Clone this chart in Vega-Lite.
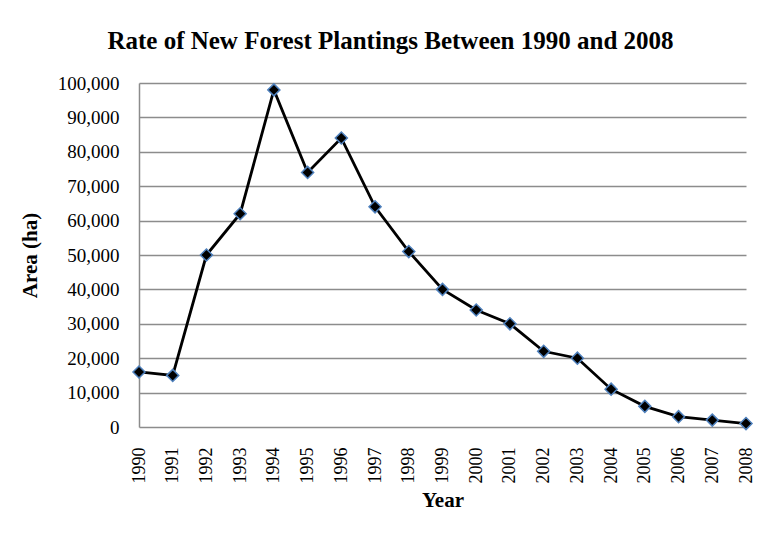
{
  "$schema": "https://vega.github.io/schema/vega-lite/v6.json",
  "width": 607,
  "height": 344,
  "autosize": {"type": "none"},
  "padding": {"left": 139, "top": 83, "right": 11, "bottom": 106},
  "background": "white",
  "title": {
    "text": "Rate of New Forest Plantings Between 1990 and 2008",
    "font": "Liberation Serif",
    "fontSize": 25,
    "fontWeight": "bold",
    "color": "black",
    "anchor": "middle",
    "dx": -52,
    "offset": 20
  },
  "config": {
    "view": {"stroke": null},
    "axis": {
      "labelFont": "Liberation Serif",
      "titleFont": "Liberation Serif",
      "labelColor": "black",
      "titleColor": "black",
      "labelFontSize": 18,
      "titleFontSize": 21,
      "titleFontWeight": "bold",
      "ticks": false,
      "domainColor": "#8c8c8c",
      "domainWidth": 1.5,
      "gridColor": "#8c8c8c",
      "gridWidth": 1.5,
      "gridOpacity": 1
    }
  },
  "data": {
    "values": [
      {"year": "1990", "area": 16000},
      {"year": "1991", "area": 15000},
      {"year": "1992", "area": 50000},
      {"year": "1993", "area": 62000},
      {"year": "1994", "area": 98000},
      {"year": "1995", "area": 74000},
      {"year": "1996", "area": 84000},
      {"year": "1997", "area": 64000},
      {"year": "1998", "area": 51000},
      {"year": "1999", "area": 40000},
      {"year": "2000", "area": 34000},
      {"year": "2001", "area": 30000},
      {"year": "2002", "area": 22000},
      {"year": "2003", "area": 20000},
      {"year": "2004", "area": 11000},
      {"year": "2005", "area": 6000},
      {"year": "2006", "area": 3000},
      {"year": "2007", "area": 2000},
      {"year": "2008", "area": 1000}
    ]
  },
  "encoding": {
    "x": {
      "field": "year",
      "type": "ordinal",
      "scale": {"type": "point", "padding": 0},
      "axis": {
        "title": "Year",
        "labelAngle": -90,
        "labelAlign": "right",
        "labelBaseline": "middle",
        "labelPadding": 20,
        "titlePadding": 6,
        "grid": false,
        "domain": false
      }
    },
    "y": {
      "field": "area",
      "type": "quantitative",
      "scale": {"domain": [0, 100000], "nice": false},
      "axis": {
        "title": "Area (ha)",
        "values": [0, 10000, 20000, 30000, 40000, 50000, 60000, 70000, 80000, 90000, 100000],
        "format": ",.0f",
        "labelFontSize": 19,
        "labelPadding": 20,
        "titleX": -109,
        "titleY": 172,
        "titleAlign": "center",
        "titleBaseline": "middle",
        "grid": true,
        "domain": true
      }
    }
  },
  "layer": [
    {
      "mark": {"type": "line", "color": "black", "strokeWidth": 2.8}
    },
    {
      "mark": {"type": "point", "shape": "diamond", "filled": true, "fill": "black", "stroke": "#4f81bd", "strokeWidth": 1.5, "size": 145, "opacity": 1}
    }
  ]
}
